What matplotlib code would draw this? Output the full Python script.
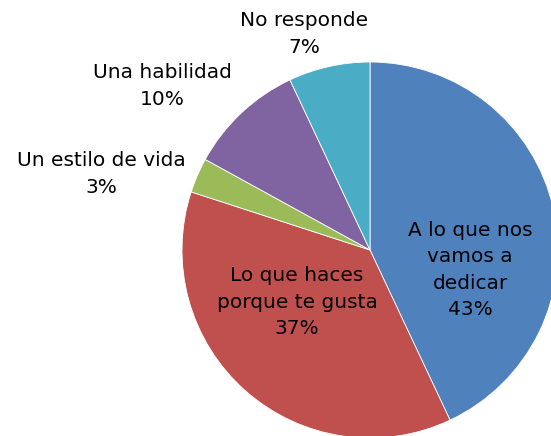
import matplotlib
matplotlib.use("Agg")
import matplotlib.pyplot as plt

# Data (clockwise from 12 o'clock)
labels = ["A lo que nos\nvamos a\ndedicar", "Lo que haces\nporque te gusta", "Un estilo de vida",
          "Una habilidad", "No responde"]
values = [43, 37, 3, 10, 7]
colors = ["#4F81BD", "#C0504D", "#9BBB59", "#8064A2", "#4BACC6"]

W, H = 551, 436
fig = plt.figure(figsize=(W / 100, H / 100), dpi=100)
ax = fig.add_axes([0, 0, 1, 1])

cx, cy, r = 370, H - 250, 188
ax.pie(values, colors=colors, startangle=90, counterclock=False,
       center=(cx, cy), radius=r,
       wedgeprops={"edgecolor": "white", "linewidth": 0.6})
ax.set_xlim(0, W)
ax.set_ylim(0, H)
ax.set_aspect("equal")
ax.axis("off")

# label anchor positions in pixels (x, y from top)
label_pos = [(470, 270), (297, 302), (101, 174), (162, 86), (304, 34)]
for lab, val, (x, y) in zip(labels, values, label_pos):
    ax.text(x, H - y, f"{lab}\n{val}%", ha="center", va="center",
            fontsize=14.5, color="black", linespacing=1.5,
            family="DejaVu Sans")

fig.savefig("out.png", dpi=100)
